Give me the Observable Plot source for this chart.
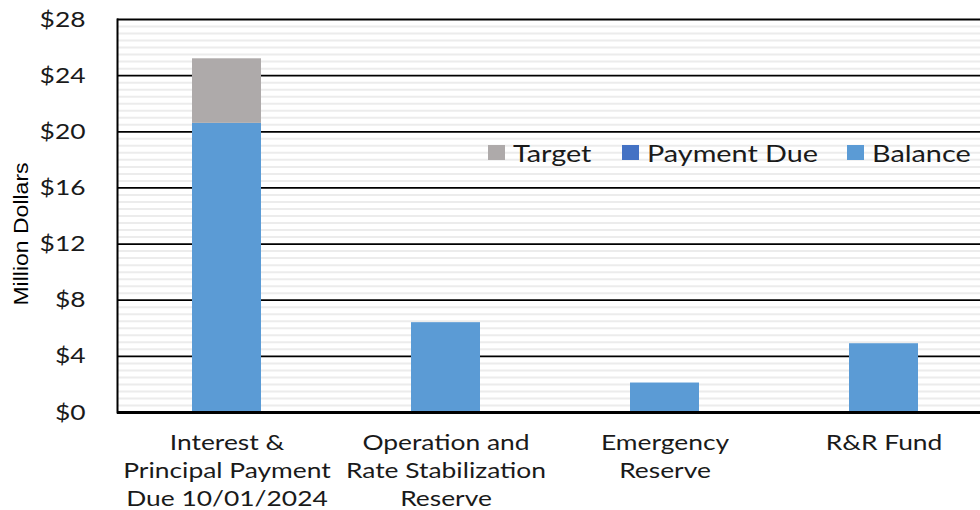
<!DOCTYPE html>
<html><head><meta charset="utf-8">
<script src="https://cdn.jsdelivr.net/npm/d3@7"></script>
<script src="https://cdn.jsdelivr.net/npm/@observablehq/plot@0.6"></script>
<style>
body{margin:0;background:#fff;}
#wrap{position:relative;width:980px;height:510px;overflow:hidden;background:#fff;}
#ytitle{position:absolute;left:21px;top:234px;transform:translate(-50%,-50%) rotate(-90deg) scaleX(1.15);font-family:"Liberation Sans",Arial,sans-serif;font-size:20px;color:#000;white-space:nowrap;}
#legend{position:absolute;left:488px;top:138px;display:flex;align-items:center;font-family:Lato,sans-serif;font-size:24px;color:#1a1a1a;white-space:nowrap;}
#legend .item{display:flex;align-items:center;margin-right:30px;}
#legend .sw{width:17px;height:15px;margin-right:8px;display:inline-block;}
#legend .tx{display:inline-block;transform:scaleX(1.2);transform-origin:left center;}
</style></head><body>
<div id="wrap"></div>
<script>
const categories = ["Interest &\nPrincipal Payment\nDue 10/01/2024", "Operation and\nRate Stabilization\nReserve", "Emergency\nReserve", "R&R Fund"];
const seriesNames = ["Target", "Payment Due", "Balance"];
const seriesColors = ["#aeaaaa", "#4472c4", "#5b9bd5"];
const balance = [20.6, 6.4, 2.1, 4.9];
const paymentDue = [0, 0, 0, 0];
const target = [4.6, 0, 0, 0];
const yTicks = [0, 4, 8, 12, 16, 20, 24, 28];
const yTickLabels = ["$0", "$4", "$8", "$12", "$16", "$20", "$24", "$28"];
const minorStep = 0.5;

const rows = [];
categories.forEach((c, i) => {
  rows.push({category: c, series: "Balance", value: balance[i]});
  rows.push({category: c, series: "Payment Due", value: paymentDue[i]});
  rows.push({category: c, series: "Target", value: target[i]});
});
const minor = d3.range(0, 28 + 1e-9, minorStep).filter(v => !yTicks.some(t => Math.abs(t - v) < 1e-9));

const chart = Plot.plot({
  width: 980, height: 510,
  marginLeft: 117, marginRight: 0, marginTop: 19, marginBottom: 98,
  style: {fontFamily: "Lato, sans-serif", background: "transparent", color: "#1a1a1a"},
  x: {domain: categories, range: [117, 993], paddingInner: 0.685, paddingOuter: 0.3425, axis: null},
  y: {domain: [0, 28], axis: null},
  color: {domain: seriesNames, range: seriesColors},
  marks: [
    Plot.ruleY(minor, {stroke: "#ececec", strokeWidth: 2}),
    Plot.ruleY(yTicks.filter(d => d > 0), {stroke: "#000", strokeWidth: 1.8}),
    Plot.barY(rows, {x: "category", y: "value", fill: "series", order: ["Balance", "Payment Due", "Target"]}),
    Plot.ruleY([0], {stroke: "#000", strokeWidth: 3}),
    Plot.frame({anchor: "left", stroke: "#000", strokeWidth: 2}),
    Plot.axisY({ticks: yTicks, tickFormat: d => yTickLabels[yTicks.indexOf(d)], tickSize: 0, tickPadding: 32, fontSize: 22, label: null}),
    Plot.axisX({tickSize: 0, tickPadding: 17, fontSize: 22, lineHeight: 1.29, label: null})
  ]
});
// widen the axis text horizontally around its anchor, like the reference's stretched lettering
chart.querySelectorAll('g[aria-label$="tick label"] text').forEach(t => {
  const tr = t.getAttribute("transform") || "";
  t.setAttribute("transform", tr + " scale(1.2,1)");
});
const wrap = document.getElementById("wrap");
wrap.appendChild(chart);

const yt = document.createElement("div");
yt.id = "ytitle";
yt.textContent = "Million Dollars";
wrap.appendChild(yt);

const color = chart.scale("color");
const lg = document.createElement("div");
lg.id = "legend";
wrap.appendChild(lg);
color.domain.forEach((name, i) => {
  const it = document.createElement("div");
  it.className = "item";
  const sw = document.createElement("span");
  sw.className = "sw";
  sw.style.background = color.range[i];
  const tx = document.createElement("span");
  tx.className = "tx";
  tx.textContent = name;
  it.appendChild(sw);
  it.appendChild(tx);
  lg.appendChild(it);
  const extra = tx.getBoundingClientRect().width - tx.offsetWidth;
  tx.style.marginRight = extra + "px";
});
</script>
</body></html>
